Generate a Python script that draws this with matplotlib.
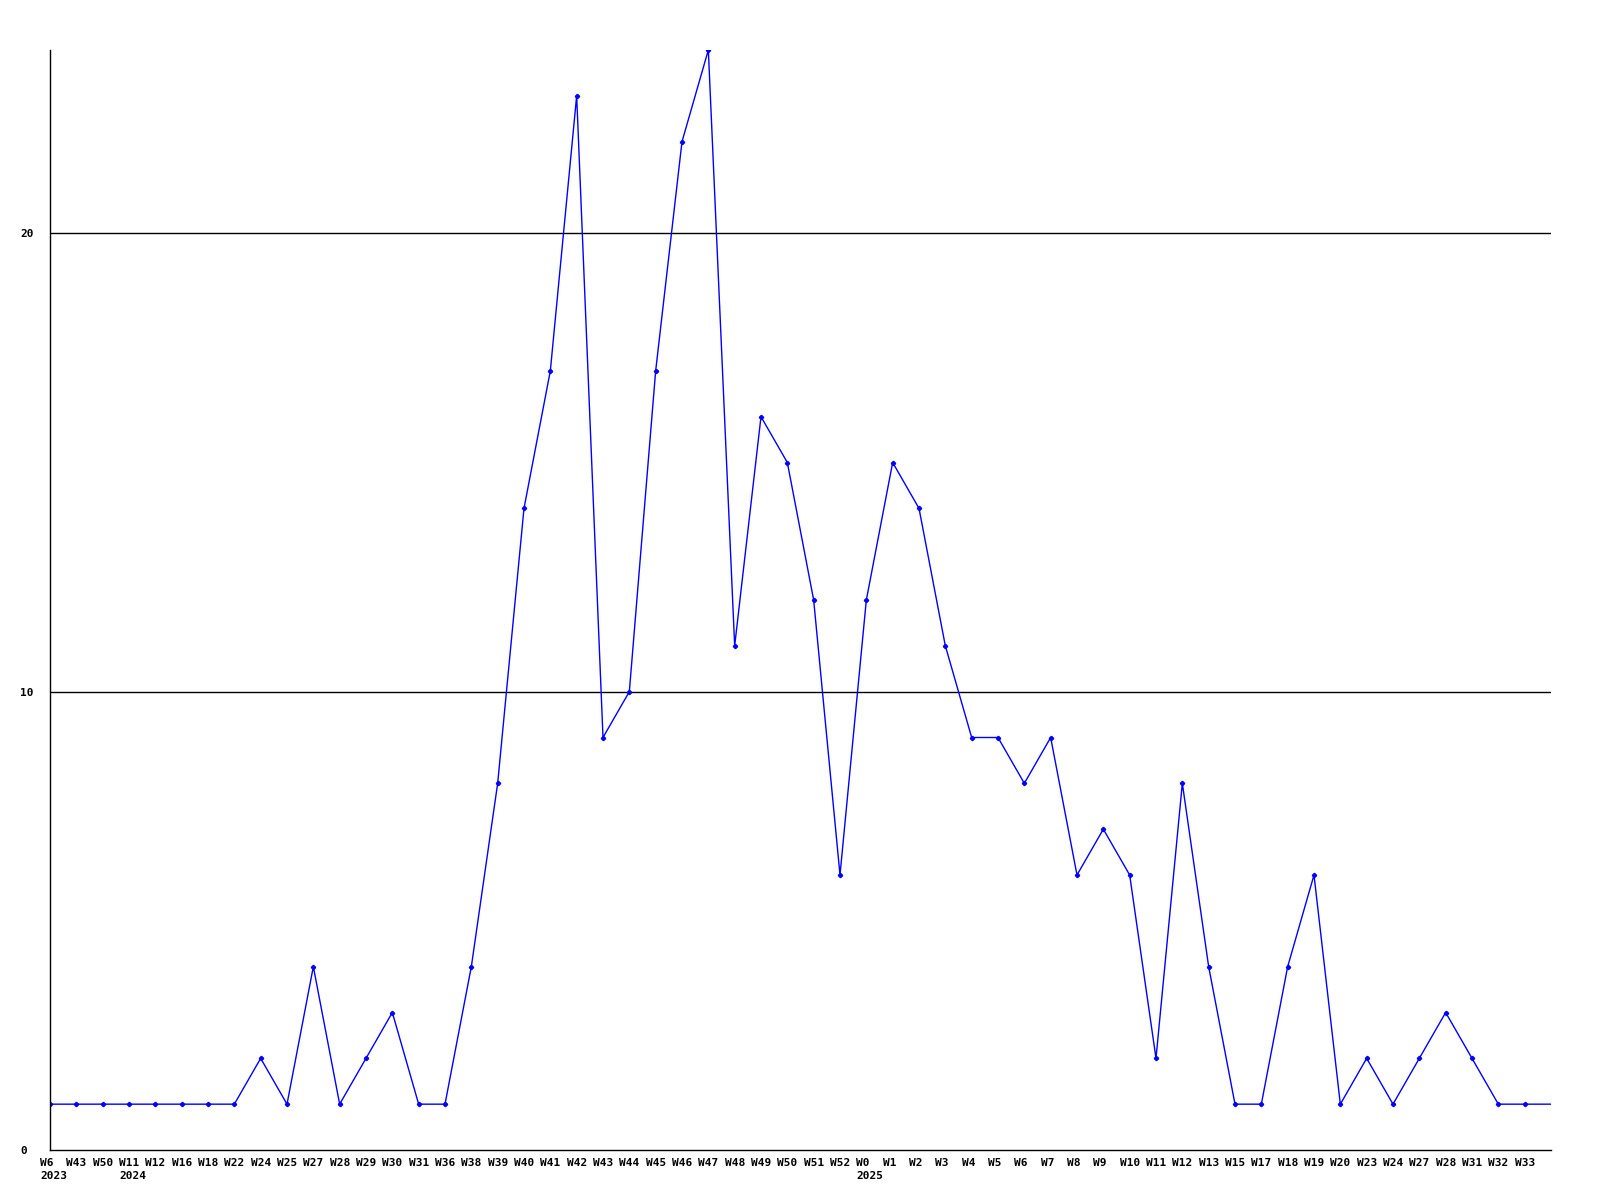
import matplotlib
matplotlib.use("Agg")
import matplotlib.pyplot as plt
import matplotlib.transforms as mtransforms

# semaines (labels) et valeurs
semaines = ["W6\n2023", "W43", "W50", "W11\n2024", "W12", "W16", "W18", "W22", "W24", "W25",
            "W27", "W28", "W29", "W30", "W31", "W36", "W38", "W39", "W40", "W41",
            "W42", "W43", "W44", "W45", "W46", "W47", "W48", "W49", "W50", "W51",
            "W52", "W0\n2025", "W1", "W2", "W3", "W4", "W5", "W6", "W7", "W8",
            "W9", "W10", "W11", "W12", "W13", "W15", "W17", "W18", "W19", "W20",
            "W23", "W24", "W27", "W28", "W31", "W32", "W33"]
valeurs = [1, 1, 1, 1, 1, 1, 1, 1, 2, 1,
           4, 1, 2, 3, 1, 1, 4, 8, 14, 17,
           23, 9, 10, 17, 22, 24, 11, 16, 15, 12,
           6, 12, 15, 14, 11, 9, 9, 8, 9, 6,
           7, 6, 2, 8, 4, 1, 1, 4, 6, 1,
           2, 1, 2, 3, 2, 1, 1]
# la ligne continue jusqu'au bord droit sans marqueur
valeur_fin = 1
y_ticks = [0, 10, 20]
y_max = 24

fig = plt.figure(figsize=(16, 12), dpi=100)
ax = fig.add_axes([50 / 1600, 50 / 1200, 1501 / 1600, 1100 / 1200])

x = list(range(len(valeurs)))
ax.plot(x + [len(valeurs)], valeurs + [valeur_fin], color="#0000ff", linewidth=1.0)
ax.plot(x, valeurs, linestyle="none", marker="P", markersize=2.8, color="#0000ff")

# grille horizontale
for yv in y_ticks[1:]:
    ax.axhline(yv, color="black", linewidth=1.0, zorder=0)

ax.set_xlim(0, len(valeurs))
ax.set_ylim(0, y_max)

ax.spines["top"].set_visible(False)
ax.spines["right"].set_visible(False)
ax.spines["left"].set_linewidth(1.0)
ax.spines["bottom"].set_linewidth(1.0)

# labels de l'axe x : alignés à gauche, 10 px avant le point
ax.set_xticks([])
trans = mtransforms.blended_transform_factory(ax.transData, ax.transAxes)
trans = trans + mtransforms.ScaledTranslation(-10 / 100, -8 / 100, fig.dpi_scale_trans)
for xi, lab in zip(x, semaines):
    ax.text(xi, 0, lab, transform=trans, ha="left", va="top",
            fontfamily="DejaVu Sans Mono", fontweight="bold", fontsize=8,
            linespacing=1.35)

ax.set_yticks(y_ticks)
ax.set_yticklabels([str(v) for v in y_ticks], fontfamily="DejaVu Sans Mono",
                   fontweight="bold", fontsize=8, ha="left")
ax.tick_params(axis="y", length=0, pad=21.6)

fig.savefig("out.png", dpi=100, facecolor="white")
